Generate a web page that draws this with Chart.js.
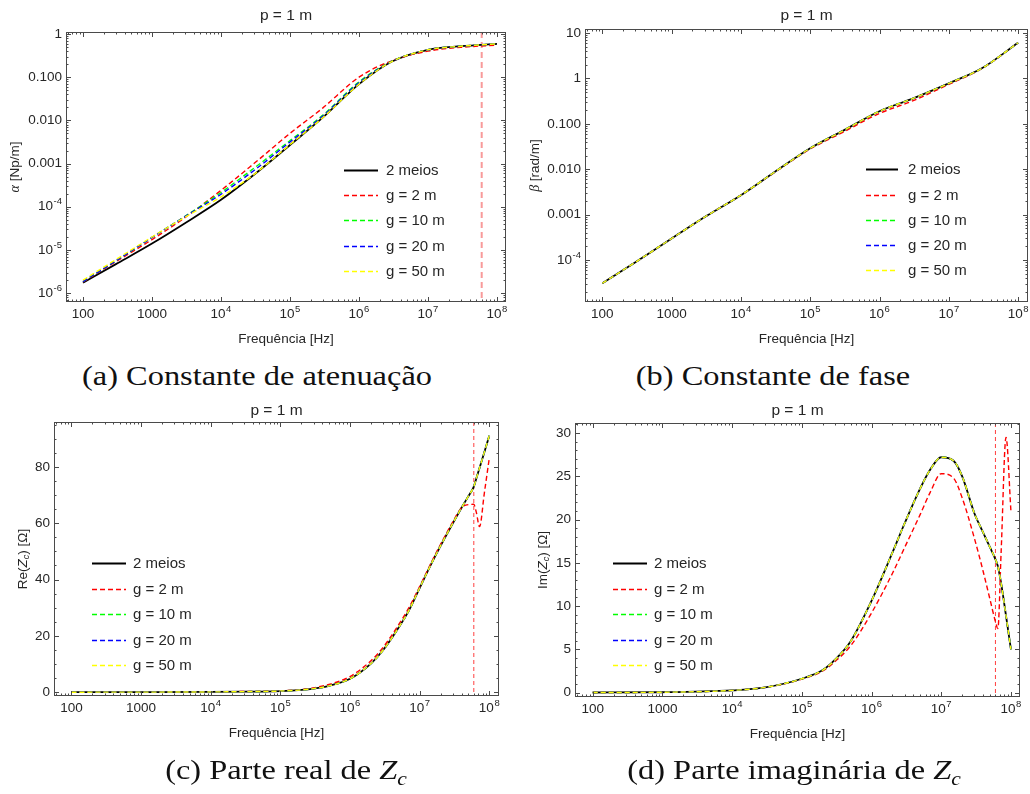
<!DOCTYPE html>
<html>
<head>
<meta charset="utf-8">
<script src="https://cdn.jsdelivr.net/npm/chart.js@4.4.0/dist/chart.umd.min.js"></script>
<style>
  body { margin: 0; background: #fff; width: 1030px; height: 794px; position: relative; overflow: hidden; }
  canvas.panel { position: absolute; }
  .cap { position: absolute; font-family: "Liberation Serif", serif; font-size: 27px; line-height: 27px;
         color: #111; white-space: nowrap; transform: translateX(-50%) scaleX(1.2); transform-origin: center; }
</style>
</head>
<body>
<canvas id="chartA" class="panel" width="515" height="355" style="left:0px;top:0px"></canvas>
<canvas id="chartB" class="panel" width="515" height="355" style="left:515px;top:0px"></canvas>
<canvas id="chartC" class="panel" width="515" height="399" style="left:0px;top:395px"></canvas>
<canvas id="chartD" class="panel" width="515" height="399" style="left:515px;top:395px"></canvas>
<div class="cap" style="left:257px;top:363px">(a) Constante de atenuação</div>
<div class="cap" style="left:773px;top:363px">(b) Constante de fase</div>
<div class="cap" style="left:286px;top:757px">(c) Parte real de <i>Z<sub style="font-size:18px">c</sub></i></div>
<div class="cap" style="left:794px;top:757px">(d) Parte imaginária de <i>Z<sub style="font-size:18px">c</sub></i></div>
<script>
// frequencies (Hz)
const freqAB = [1e2, 3e2, 1e3, 3e3, 1e4, 3e4, 1e5, 3e5, 1e6, 3e6, 1e7, 3e7, 1e8];
const freqZ = [1e2, 1e3, 1e4, 3e4, 1e5, 2e5, 3e5, 5e5, 1e6, 2e6, 3e6, 5e6, 7e6, 1e7, 1.5e7, 2e7,
               3e7, 4e7, 5e7, 6e7, 6.5e7, 7.25e7, 8.5e7, 1e8];

const seriesLabels = ['2 meios', 'g = 2 m', 'g = 10 m', 'g = 20 m', 'g = 50 m'];
const seriesColors = ['#000000', '#ff0000', '#00ff00', '#0000ff', '#ffff00'];

// (a) alpha [Np/m]
const alpha2Meios = [1.74e-6, 4.7e-6, 1.41e-5, 4.17e-5, 1.45e-4, 5.5e-4, 2.69e-3, 1.17e-2, 6.9e-2, 0.23, 0.43, 0.52, 0.59];
const alphaG2  = [1.82e-6, 5.37e-6, 1.74e-5, 5.62e-5, 2.4e-4, 1.0e-3, 5.0e-3, 1.95e-2, 0.10, 0.24, 0.40, 0.49, 0.55];
const alphaG10 = [1.86e-6, 5.62e-6, 1.95e-5, 6.0e-5, 2.14e-4, 7.8e-4, 3.4e-3, 1.32e-2, 7.8e-2, 0.234, 0.43, 0.52, 0.59];
const alphaG20 = [1.86e-6, 5.62e-6, 1.95e-5, 5.9e-5, 1.95e-4, 6.9e-4, 3.16e-3, 1.26e-2, 7.4e-2, 0.232, 0.43, 0.52, 0.59];
const alphaG50 = [2.0e-6, 6.0e-6, 2.0e-5, 5.75e-5, 1.7e-4, 5.6e-4, 2.75e-3, 1.17e-2, 6.9e-2, 0.23, 0.43, 0.52, 0.59];

// (b) beta [rad/m]
const beta2Meios = [3.1e-5, 9.0e-5, 3.0e-4, 8.9e-4, 2.7e-3, 8.5e-3, 2.9e-2, 7.1e-2, 0.19, 0.36, 0.78, 1.67, 6.1];
const betaG2  = [3.1e-5, 9.0e-5, 3.0e-4, 8.9e-4, 2.7e-3, 8.4e-3, 2.8e-2, 6.6e-2, 0.17, 0.32, 0.74, 1.65, 6.1];
const betaG10 = [3.1e-5, 9.0e-5, 3.0e-4, 8.9e-4, 2.7e-3, 8.5e-3, 2.9e-2, 7.1e-2, 0.19, 0.36, 0.78, 1.67, 6.1];
const betaG20 = [3.1e-5, 9.0e-5, 3.0e-4, 8.9e-4, 2.7e-3, 8.5e-3, 2.9e-2, 7.1e-2, 0.19, 0.36, 0.78, 1.67, 6.1];
const betaG50 = [3.1e-5, 9.0e-5, 3.0e-4, 8.9e-4, 2.7e-3, 8.5e-3, 2.9e-2, 7.1e-2, 0.19, 0.36, 0.78, 1.67, 6.1];

// (c) Re(Zc) [ohm]
const re2Meios = [0.05, 0.08, 0.15, 0.25, 0.45, 0.85, 1.3, 2.3, 4.8, 10.2, 15, 23, 29, 37, 46, 52,
                  60, 65.5, 69.5, 73, 75.8, 79.6, 85.2, 91];
const reG2  = [0.05, 0.08, 0.15, 0.3, 0.55, 1.0, 1.6, 2.8, 5.6, 11.2, 16, 24, 30, 37.5, 46.5, 52.5,
               60.5, 65.5, 66.6, 66.7, 64, 58.8, 70.7, 83];
const reG10 = re2Meios, reG20 = re2Meios, reG50 = re2Meios;

// (d) Im(Zc) [ohm]
const im2Meios = [0.01, 0.04, 0.25, 0.6, 1.6, 2.6, 3.8, 5.9, 10.6, 16.2, 19.6, 23.6, 25.8, 27.2, 26.8, 25.0,
                  20.7, 18.5, 16.8, 15.4, 14.6, 12.6, 8.9, 5.0];
const imG2  = [0.01, 0.04, 0.25, 0.6, 1.55, 2.5, 3.6, 5.4, 9.2, 13.8, 16.8, 20.6, 23.2, 25.3, 24.8, 22.5,
               17.8, 14.0, 10.8, 8.2, 7.4, 16.4, 29.5, 21.0];
const imG10 = im2Meios, imG20 = im2Meios, imG50 = im2Meios;

const cutoffFreq = 6e7;

const freqTicks = [1e2, 1e3, 1e4, 1e5, 1e6, 1e7, 1e8];
const alphaTicks = [1e-6, 1e-5, 1e-4, 1e-3, 1e-2, 1e-1, 1];
const betaTicks = [1e-4, 1e-3, 1e-2, 1e-1, 1, 10];
const reTicks = [0, 20, 40, 60, 80];
const imTicks = [0, 5, 10, 15, 20, 25, 30];

const SANS = '"Liberation Sans", Arial, sans-serif';
const TXT = '#262626';
const BASE_FONT = '13.5px ' + SANS;
const EXP_FONT = '9.5px ' + SANS;

// tick label parts: base text and optional exponent
function fmtFreq(v) {
  const e = Math.round(Math.log10(v));
  if (e === 2) return { b: '100' };
  if (e === 3) return { b: '1000' };
  return { b: '10', e: String(e) };
}
function fmtLogY(v) {
  const e = Math.round(Math.log10(v));
  if (e >= 0) return { b: String(Math.round(v)) };
  if (e >= -3) return { b: v.toFixed(3) };
  return { b: '10', e: String(e) };
}
function fmtLin(v) { return { b: String(v) }; }

function drawTickLabel(ctx, p, x, y, align) {
  ctx.font = BASE_FONT;
  const wb = ctx.measureText(p.b).width;
  let we = 0;
  if (p.e) { ctx.font = EXP_FONT; we = ctx.measureText(p.e).width + 0.5; }
  const w = wb + we;
  const x0 = align === 'center' ? x - w / 2 : x - w;
  ctx.textAlign = 'left';
  ctx.textBaseline = 'middle';
  ctx.font = BASE_FONT;
  ctx.fillText(p.b, x0, y);
  if (p.e) { ctx.font = EXP_FONT; ctx.fillText(p.e, x0 + wb + 0.5, y - 5); }
}

function logTicks(min, max) {
  const out = [];
  for (let e = Math.floor(Math.log10(min)); e <= Math.ceil(Math.log10(max)); e++) {
    for (let k = 1; k <= 9; k++) {
      const v = k * Math.pow(10, e);
      if (v >= min && v <= max) out.push({ v: v, major: k === 1 });
    }
  }
  return out;
}
function linTicks(min, max, minor, major) {
  const out = [];
  for (let i = Math.ceil(min / minor); i * minor <= max; i++) {
    const v = i * minor;
    out.push({ v: v, major: Math.abs(v / major - Math.round(v / major)) < 1e-6 });
  }
  return out;
}

const framePlugin = {
  id: 'frame',
  beforeDatasetsDraw(chart, args, o) {
    if (!o.cutoff) return;
    const ctx = chart.ctx;
    const { top, bottom } = chart.chartArea;
    const x = chart.scales.x.getPixelForValue(o.cutoff.value);
    ctx.save();
    ctx.strokeStyle = o.cutoff.color;
    ctx.lineWidth = o.cutoff.width;
    ctx.setLineDash(o.cutoff.dash);
    ctx.beginPath();
    ctx.moveTo(x, top);
    ctx.lineTo(x, bottom);
    ctx.stroke();
    ctx.restore();
  },
  afterDraw(chart, args, o) {
    const ctx = chart.ctx;
    const { left, right, top, bottom } = chart.chartArea;
    const xs = chart.scales.x, ys = chart.scales.y;
    ctx.save();

    // frame + inward ticks on all sides
    ctx.strokeStyle = '#4a4a4a';
    ctx.lineWidth = 1;
    ctx.strokeRect(left + 0.5, top + 0.5, right - left - 1, bottom - top - 1);
    ctx.beginPath();
    logTicks(xs.min, xs.max).forEach(t => {
      const x = Math.round(xs.getPixelForValue(t.v)) + 0.5;
      const len = t.major ? 5 : 2.5;
      ctx.moveTo(x, bottom); ctx.lineTo(x, bottom - len);
      ctx.moveTo(x, top); ctx.lineTo(x, top + len);
    });
    const yt = o.yLog ? logTicks(ys.min, ys.max) : linTicks(ys.min, ys.max, o.yMinor, o.yMajor);
    yt.forEach(t => {
      const y = Math.round(ys.getPixelForValue(t.v)) + 0.5;
      const len = t.major ? 5 : 2.5;
      ctx.moveTo(left, y); ctx.lineTo(left + len, y);
      ctx.moveTo(right, y); ctx.lineTo(right - len, y);
    });
    ctx.stroke();

    // tick labels from the scales' own ticks
    ctx.fillStyle = TXT;
    xs.ticks.forEach(t => drawTickLabel(ctx, fmtFreq(t.value), xs.getPixelForValue(t.value), bottom + 12, 'center'));
    const fy = o.yLog ? fmtLogY : fmtLin;
    ys.ticks.forEach(t => drawTickLabel(ctx, fy(t.value), left - 4, ys.getPixelForValue(t.value), 'right'));

    // title
    ctx.textAlign = 'center';
    ctx.textBaseline = 'middle';
    ctx.font = '15.5px ' + SANS;
    ctx.fillText('p = 1 m', (left + right) / 2, o.titleY);

    // x-axis title
    ctx.font = '13.5px ' + SANS;
    ctx.fillText('Frequência [Hz]', (left + right) / 2, bottom + 37);

    // y-axis title (rich text, rotated)
    ctx.save();
    ctx.translate(o.yTitleX, (top + bottom) / 2);
    ctx.rotate(-Math.PI / 2);
    ctx.textAlign = 'left';
    let total = 0;
    o.yTitle.forEach(r => { ctx.font = r.font; total += ctx.measureText(r.t).width; });
    let cx = -total / 2;
    o.yTitle.forEach(r => {
      ctx.font = r.font;
      ctx.fillText(r.t, cx, r.dy || 0);
      cx += ctx.measureText(r.t).width;
    });
    ctx.restore();

    // legend
    const lg = o.legend;
    ctx.font = '15px ' + SANS;
    ctx.textAlign = 'left';
    chart.data.datasets.forEach((ds, i) => {
      const y = Math.round(lg.y + i * lg.dy) + 0.5;
      ctx.strokeStyle = ds.borderColor;
      ctx.lineWidth = i === 0 ? 2 : 1.4;
      ctx.setLineDash(ds.borderDash);
      ctx.beginPath();
      ctx.moveTo(lg.x0, y);
      ctx.lineTo(lg.x1, y);
      ctx.stroke();
      ctx.setLineDash([]);
      ctx.fillStyle = TXT;
      ctx.fillText(ds.label, lg.tx, y);
    });
    ctx.restore();
  }
};
Chart.register(framePlugin);

function makeDatasets(freq, seriesList) {
  return seriesList.map((vals, i) => ({
    label: seriesLabels[i],
    data: freq.map((f, k) => ({ x: f, y: vals[k] })),
    borderColor: seriesColors[i],
    borderWidth: i === 0 ? 1.8 : 1.4,
    borderDash: i === 0 ? [] : [5, 3],
    pointRadius: 0,
    cubicInterpolationMode: 'monotone',
    fill: false,
    order: seriesLabels.length - i
  }));
}

function makePanel(id, p) {
  new Chart(document.getElementById(id), {
    type: 'line',
    data: { datasets: makeDatasets(p.freq, p.series) },
    options: {
      responsive: false,
      animation: false,
      devicePixelRatio: 1,
      layout: { padding: p.padding },
      plugins: {
        legend: { display: false },
        tooltip: { enabled: false },
        frame: p.frame
      },
      scales: {
        x: {
          type: 'logarithmic',
          min: p.xMin, max: p.xMax,
          afterBuildTicks: s => { s.ticks = freqTicks.map(v => ({ value: v })); },
          afterFit: s => { s.height = 20; },
          ticks: { display: false },
          grid: { display: false, drawTicks: false },
          border: { display: false }
        },
        y: {
          type: p.yLog ? 'logarithmic' : 'linear',
          min: p.yMin, max: p.yMax,
          afterBuildTicks: s => { s.ticks = p.yTicks.map(v => ({ value: v })); },
          afterFit: s => { s.width = p.yWidth; },
          ticks: { display: false },
          grid: { display: false, drawTicks: false },
          border: { display: false }
        }
      }
    }
  });
}

const italicSans = 'italic 13.5px ' + SANS;
const plainSans = '13.5px ' + SANS;

makePanel('chartA', {
  freq: freqAB, series: [alpha2Meios, alphaG2, alphaG10, alphaG20, alphaG50],
  xMin: 56.7, xMax: 1.35e8, yLog: true, yMin: 6.25e-7, yMax: 1.11, yTicks: alphaTicks, yWidth: 60,
  padding: { left: 6, top: 32, right: 9, bottom: 33 },
  frame: {
    yLog: true, titleY: 16, yTitleX: 15,
    yTitle: [{ t: 'α', font: 'italic 14px "Liberation Serif", serif' }, { t: ' [Np/m]', font: plainSans }],
    legend: { x0: 344, x1: 378, tx: 386, y: 170, dy: 25.2 },
    cutoff: { value: cutoffFreq, color: 'rgba(245,120,120,0.75)', width: 2, dash: [6, 4] }
  }
});

makePanel('chartB', {
  freq: freqAB, series: [beta2Meios, betaG2, betaG10, betaG20, betaG50],
  xMin: 56.2, xMax: 1.39e8, yLog: true, yMin: 1.2e-5, yMax: 12.25, yTicks: betaTicks, yWidth: 60,
  padding: { left: 10, top: 29, right: 2, bottom: 33 },
  frame: {
    yLog: true, titleY: 16, yTitleX: 20,
    yTitle: [{ t: 'β', font: 'italic 14px "Liberation Serif", serif' }, { t: ' [rad/m]', font: plainSans }],
    legend: { x0: 351, x1: 383, tx: 393, y: 169.3, dy: 25.2 }
  }
});

makePanel('chartC', {
  freq: freqZ, series: [re2Meios, reG2, reG10, reG20, reG50],
  xMin: 56.2, xMax: 1.38e8, yLog: false, yMin: -1.3, yMax: 95.9, yTicks: reTicks, yWidth: 48,
  padding: { left: 6, top: 27, right: 16, bottom: 78 },
  frame: {
    yLog: false, yMinor: 5, yMajor: 20, titleY: 16, yTitleX: 23,
    yTitle: [{ t: 'Re(', font: plainSans }, { t: 'Z', font: italicSans },
             { t: 'c', font: 'italic 9px ' + SANS, dy: 3 }, { t: ') [Ω]', font: plainSans }],
    legend: { x0: 92, x1: 126, tx: 133, y: 168.3, dy: 25.4 },
    cutoff: { value: cutoffFreq, color: 'rgba(255,30,30,0.85)', width: 1, dash: [4, 3] }
  }
});

makePanel('chartD', {
  freq: freqZ, series: [im2Meios, imG2, imG10, imG20, imG50],
  xMin: 55.7, xMax: 1.35e8, yLog: false, yMin: -0.51, yMax: 31.16, yTicks: imTicks, yWidth: 50,
  padding: { left: 10, top: 28, right: 10, bottom: 77 },
  frame: {
    yLog: false, yMinor: 1, yMajor: 5, titleY: 16, yTitleX: 28,
    yTitle: [{ t: 'Im(', font: plainSans }, { t: 'Z', font: italicSans },
             { t: 'c', font: 'italic 9px ' + SANS, dy: 3 }, { t: ') [Ω]', font: plainSans }],
    legend: { x0: 98, x1: 132, tx: 139, y: 168.3, dy: 25.4 },
    cutoff: { value: cutoffFreq, color: 'rgba(255,30,30,0.85)', width: 1, dash: [4, 3] }
  }
});
</script>
</body>
</html>
